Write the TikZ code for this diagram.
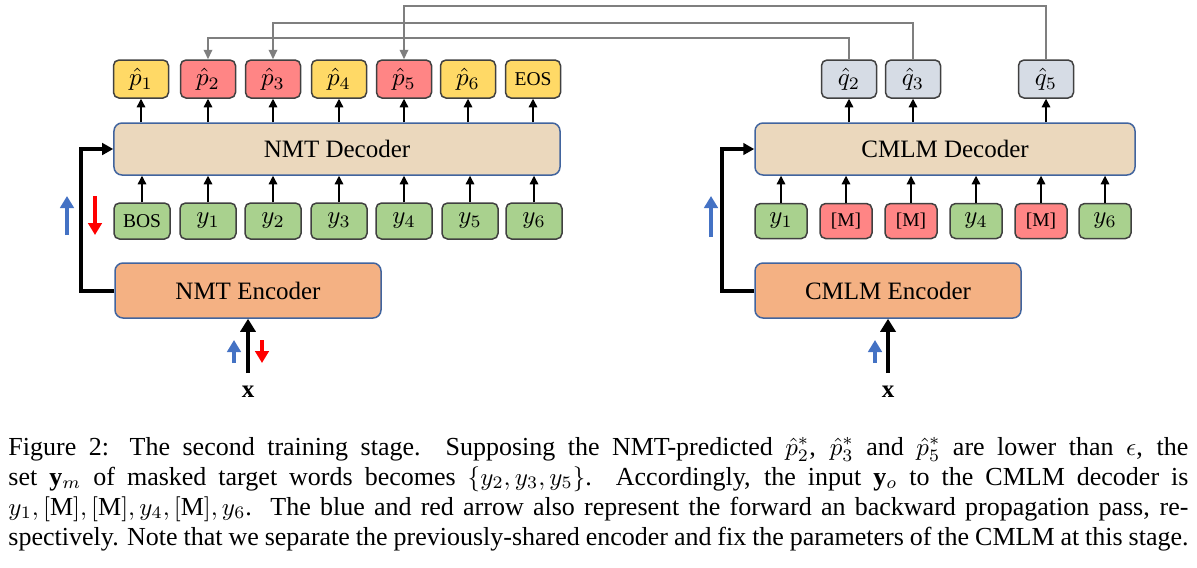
\documentclass[tikz,border=0pt]{standalone}
\usepackage{fontspec}
\setmainfont{Liberation Serif}
\usetikzlibrary{arrows.meta,calc}
\definecolor{ybox}{HTML}{FFD966}
\definecolor{rbox}{HTML}{FF8585}
\definecolor{qbox}{HTML}{D6DCE5}
\definecolor{gbox}{HTML}{A9D18E}
\definecolor{decfill}{HTML}{EBD8BD}
\definecolor{encfill}{HTML}{F4B183}
\definecolor{blueedge}{HTML}{41649E}
\definecolor{boxedge}{HTML}{404040}
\definecolor{fwd}{HTML}{4472C4}
\definecolor{bwd}{HTML}{FF0000}
\definecolor{feedgray}{HTML}{7F7F7F}
\tikzset{
  tok/.style={draw=boxedge, line width=0.6pt, rounded corners=2.2pt, inner sep=0pt,
    minimum width=22pt, minimum height=15.2pt, font=\fontsize{10}{11}\selectfont},
  ptok/.style={tok, fill=ybox},
  rtok/.style={tok, fill=rbox},
  qtok/.style={tok, fill=qbox},
  itok/.style={tok, fill=gbox, minimum width=22.4pt, minimum height=14.4pt},
  ctok/.style={tok, minimum width=20.8pt, minimum height=14pt},
  wordfont/.style={font=\fontsize{7.8}{9}\selectfont},
  block/.style={draw=blueedge, line width=0.6pt, rounded corners=3.2pt, inner sep=0pt,
    font=\fontsize{10}{12}\selectfont},
  decoder/.style={block, fill=decfill, minimum height=20.8pt},
  encoder/.style={block, fill=encfill, minimum width=106.4pt, minimum height=22pt},
  arr/.style={-{Triangle[width=3.4pt,length=3.4pt]}, line width=0.55pt, black},
  feed/.style={-{Triangle[width=3.4pt,length=3.8pt]}, line width=0.8pt, feedgray},
  ctx/.style={-{Triangle[width=4.6pt,length=4.4pt]}, line width=1.6pt, black},
  inarr/.style={-{Triangle[width=6pt,length=5.2pt]}, line width=1.6pt, black},
  fwdarr/.style={-{Triangle[width=5.4pt,length=4.8pt]}, line width=1.8pt, fwd},
  bwdarr/.style={-{Triangle[width=5.4pt,length=4.8pt]}, line width=1.8pt, bwd},
}
\begin{document}
\begin{tikzpicture}[x=0.4pt, y=-0.4pt]
\useasboundingbox (0,0) rectangle (1197,567);

% ---------- NMT side ----------
\node[decoder, minimum width=178.4pt] (ndec) at (337,149) {NMT Decoder};
\node[encoder] (nenc) at (248,290.5) {NMT Encoder};

\node[ptok] (p1) at (141,79) {$\hat{p}_1$};
\node[rtok] (p2) at (208,79) {$\hat{p}_2$};
\node[rtok] (p3) at (273,79) {$\hat{p}_3$};
\node[ptok] (p4) at (339,79) {$\hat{p}_4$};
\node[rtok] (p5) at (404,79) {$\hat{p}_5$};
\node[ptok] (p6) at (468,79) {$\hat{p}_6$};
\node[ptok, wordfont] (peos) at (533,79) {EOS};

\node[itok, wordfont] (i0) at (142,221) {BOS};
\node[itok] (i1) at (208,221) {$y_1$};
\node[itok] (i2) at (273,221) {$y_2$};
\node[itok] (i3) at (339,221) {$y_3$};
\node[itok] (i4) at (404,221) {$y_4$};
\node[itok] (i5) at (470,221) {$y_5$};
\node[itok] (i6) at (534,221) {$y_6$};

\foreach \n in {p1,p2,p3,p4,p5,p6,peos}
  \draw[arr] (\n.south |- ndec.north) -- (\n.south);
\foreach \n in {i0,i1,i2,i3,i4,i5,i6}
  \draw[arr] (\n.north) -- (\n.north |- ndec.south);

\draw[ctx] (nenc.west) -- ++(-33,0) |- (ndec.west);

\coordinate (nfb1) at (67,235);  \coordinate (nfe1) at (67,196);
\coordinate (nbb1) at (95,196);  \coordinate (nbe1) at (95,235);
\draw[fwdarr] (nfb1) -- (nfe1);
\draw[bwdarr] (nbb1) -- (nbe1);

\node[font=\fontsize{10}{12}\selectfont] (nx) at (248,392) {$\mathbf{x}$};
\coordinate (nxs) at (248,373);
\draw[inarr] (nxs) -- (nenc.south);
\coordinate (nfb2) at (234,363);  \coordinate (nfe2) at (234,340);
\coordinate (nbb2) at (262,340);  \coordinate (nbe2) at (262,363);
\draw[fwdarr] (nfb2) -- (nfe2);
\draw[bwdarr] (nbb2) -- (nbe2);

% ---------- CMLM side ----------
\node[decoder, minimum width=152pt] (cdec) at (945,149) {CMLM Decoder};
\node[encoder] (cenc) at (888,290.5) {CMLM Encoder};

\node[qtok] (q2) at (849,79) {$\hat{q}_2$};
\node[qtok] (q3) at (913,79) {$\hat{q}_3$};
\node[qtok] (q5) at (1046,79) {$\hat{q}_5$};

\node[ctok, fill=gbox] (c1) at (781,221) {$y_1$};
\node[ctok, fill=rbox, wordfont] (c2) at (846,221) {[M]};
\node[ctok, fill=rbox, wordfont] (c3) at (911,221) {[M]};
\node[ctok, fill=gbox] (c4) at (976,221) {$y_4$};
\node[ctok, fill=rbox, wordfont] (c5) at (1041,221) {[M]};
\node[ctok, fill=gbox] (c6) at (1105,221) {$y_6$};

\foreach \n in {q2,q3,q5}
  \draw[arr] (\n.south |- cdec.north) -- (\n.south);
\foreach \n in {c1,c2,c3,c4,c5,c6}
  \draw[arr] (\n.north) -- (\n.north |- cdec.south);

\draw[ctx] (cenc.west) -- ++(-32,0) |- (cdec.west);

\coordinate (cfb1) at (711,237);  \coordinate (cfe1) at (711,196);
\draw[fwdarr] (cfb1) -- (cfe1);

\node[font=\fontsize{10}{12}\selectfont] (cx) at (888,392) {$\mathbf{x}$};
\coordinate (cxs) at (888,373);
\draw[inarr] (cxs) -- (cenc.south);
\coordinate (cfb2) at (875,363);  \coordinate (cfe2) at (875,340);
\draw[fwdarr] (cfb2) -- (cfe2);

% ---------- feedback lines ----------
\draw[feed] (q2.north) -- ++(0,-21) -| (p2.north);
\draw[feed] (q3.north) -- ++(0,-36) -| (p3.north);
\draw[feed] (q5.north) -- ++(0,-53) -| (p5.north);

% ---------- caption ----------
\node[anchor=base west, inner sep=0pt] (cap) at (8,455) {\parbox[t]{472pt}{%
\fontsize{10.4}{12}\selectfont
Figure 2: The second training stage.\ \ Supposing the NMT-predicted $\hat{p}_2^*$, $\hat{p}_3^*$ and $\hat{p}_5^*$ are lower than $\epsilon$, the\linebreak
set $\mathbf{y}_m$ of masked target words becomes $\{y_2,y_3,y_5\}$.\ \ Accordingly, the input $\mathbf{y}_o$ to the CMLM decoder is\linebreak
$y_1,\mathrm{[M]},\mathrm{[M]},y_4,\mathrm{[M]},y_6$.\ \ The blue and red arrow also represent the forward an backward propagation pass, re-\linebreak
spectively. Note that we separate the previously-shared encoder and fix the parameters of the CMLM at this stage.\parfillskip=0pt\par}};
\end{tikzpicture}
\end{document}
